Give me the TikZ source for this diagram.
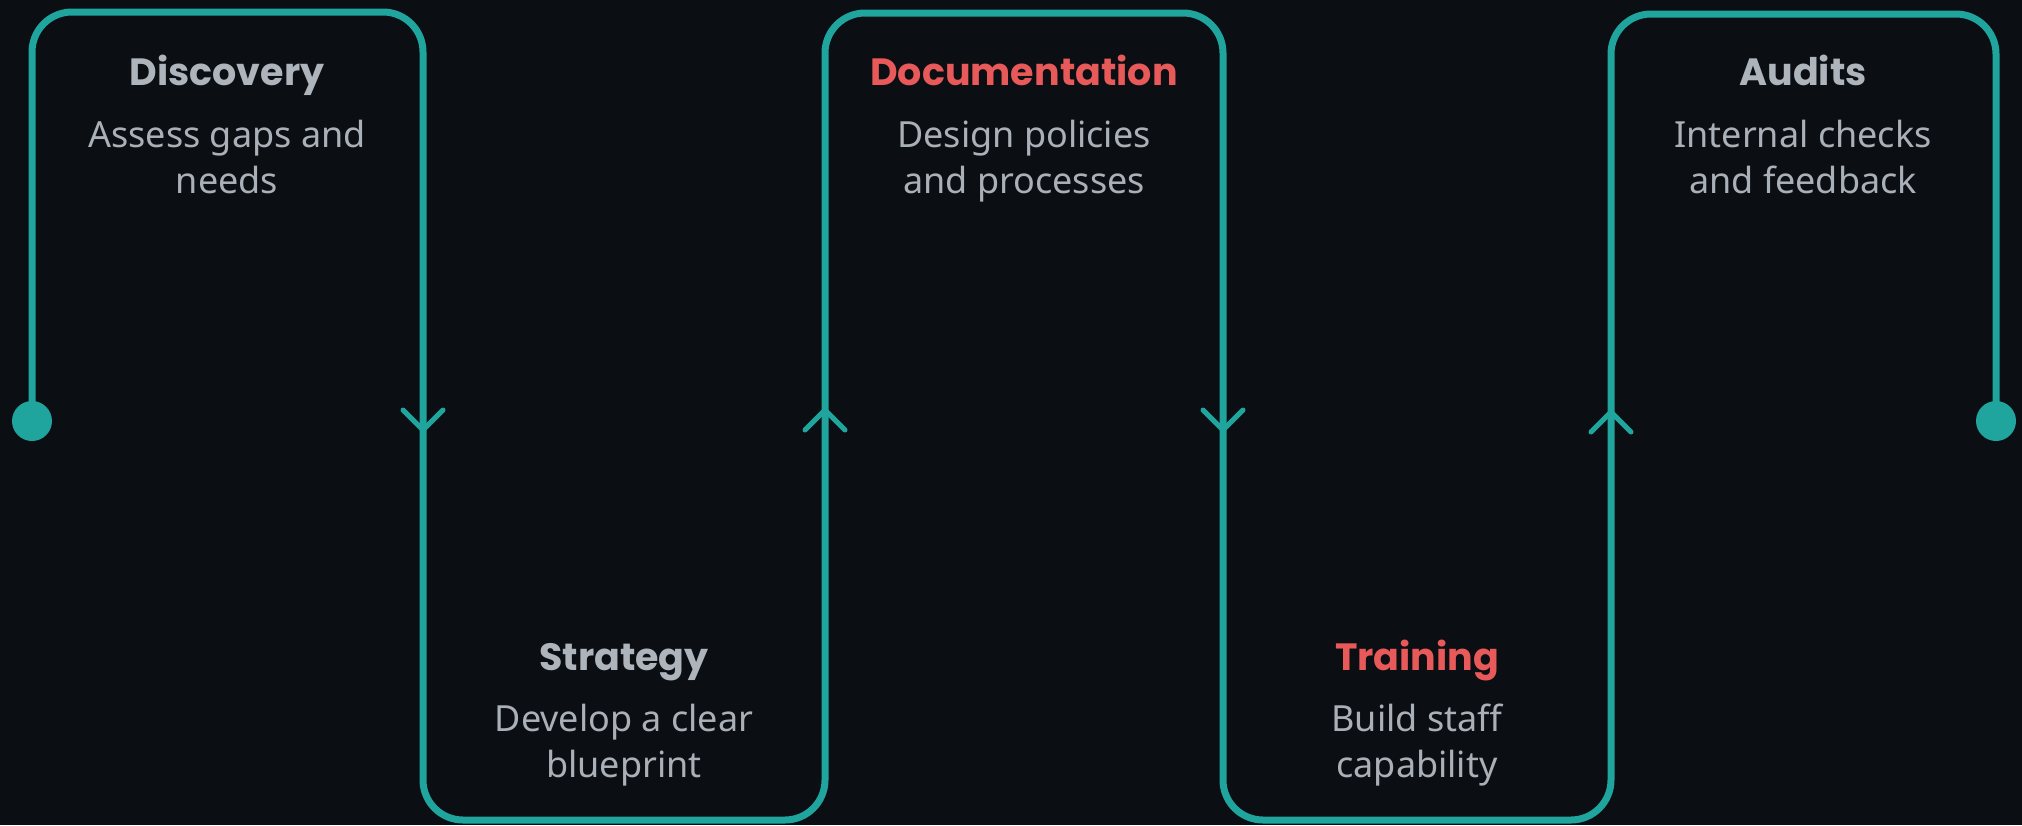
\documentclass[tikz,border=0pt]{standalone}
\usepackage{fontspec}
\setmainfont{Noto Sans}
\newfontfamily\headfont{Poppins}

\definecolor{bgdark}{HTML}{0B0E12}
\definecolor{tealline}{HTML}{1FA59E}
\definecolor{headgrey}{HTML}{AEB4BB}
\definecolor{bodygrey}{HTML}{A9B0B8}
\definecolor{headred}{HTML}{E85A5A}

\begin{document}
\begin{tikzpicture}[x=1pt,y=-1pt,line cap=round,line join=round,
  flow/.style={draw=tealline,line width=7pt,rounded corners=40pt},
  tick/.style={draw=tealline,line width=5pt},
  heading/.style={anchor=base,font=\headfont\bfseries\fontsize{38}{44}\selectfont,text=headgrey},
  redheading/.style={heading,text=headred},
  body/.style={anchor=base,align=center,font=\fontsize{36}{46}\selectfont,text=bodygrey}]

\fill[bgdark] (0,0) rectangle (2022,825);
\useasboundingbox (0,0) rectangle (2022,825);

% corners of the serpentine line
\coordinate (start) at (32,421);
\coordinate (c1) at (32,12);
\coordinate (c2) at (423,12);
\coordinate (c3) at (423,820);
\coordinate (c4) at (825,820);
\coordinate (c5) at (825,13);
\coordinate (c6) at (1223,13);
\coordinate (c7) at (1223,820);
\coordinate (c8) at (1611,820);
\coordinate (c9) at (1611,14);
\coordinate (c10) at (1996,14);
\coordinate (finish) at (1996,421);

\draw[flow] (start) -- (c1) -- (c2) -- (c3) -- (c4) -- (c5) -- (c6) -- (c7) -- (c8) -- (c9) -- (c10) -- (finish);

\fill[tealline] (start) circle (20pt);
\fill[tealline] (finish) circle (20pt);

% direction marks
\coordinate (down1) at (423,430);
\coordinate (up1) at (825,410);
\coordinate (down2) at (1223,430);
\coordinate (up2) at (1611,412);
\draw[tick] (down1) ++(-20,-20) -- (down1) -- ++(20,-20);
\draw[tick] (down2) ++(-20,-20) -- (down2) -- ++(20,-20);
\draw[tick] (up1) ++(-20,20) -- (up1) -- ++(20,20);
\draw[tick] (up2) ++(-20,20) -- (up2) -- ++(20,20);

% stages (body anchored on its last line)
\node[heading] (discovery) at (227,85) {Discovery};
\node[body] (discoverytext) at (227,193) {Assess gaps and\\needs};

\node[heading] (strategy) at (624,670) {Strategy};
\node[body] (strategytext) at (624,777) {Develop a clear\\blueprint};

\node[redheading] (documentation) at (1024,85) {Documentation};
\node[body] (documentationtext) at (1024,193) {Design policies\\and processes};

\node[redheading] (training) at (1417,670) {Training};
\node[body] (trainingtext) at (1417,777) {Build staff\\capability};

\node[heading] (audits) at (1803,85) {Audits};
\node[body] (auditstext) at (1803,193) {Internal checks\\and feedback};
\end{tikzpicture}
\end{document}
